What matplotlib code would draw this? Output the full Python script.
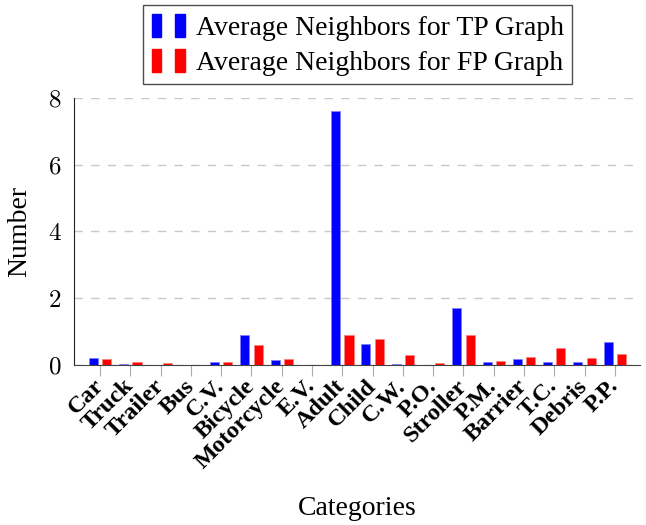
import matplotlib

matplotlib.use("Agg")
import matplotlib.pyplot as plt
import numpy as np
from matplotlib.patches import Rectangle
from matplotlib.legend_handler import HandlerTuple

CATEGORIES = ["Car", "Truck", "Trailer", "Bus", "C.V.", "Bicycle", "Motorcycle", "E.V.",
              "Adult", "Child", "C.W.", "P.O.", "Stroller", "P.M.", "Barrier", "T.C.",
              "Debris", "P.P."]
TP_AVG = [0.22, 0.02, 0.01, 0.0, 0.08, 0.89, 0.14, 0.01,
          7.6, 0.64, 0.02, 0.01, 1.7, 0.08, 0.18, 0.10, 0.10, 0.69]
FP_AVG = [0.18, 0.08, 0.07, 0.01, 0.08, 0.61, 0.19, 0.01,
          0.91, 0.79, 0.31, 0.05, 0.9, 0.12, 0.25, 0.5, 0.21, 0.34]
Y_TICKS = [0, 2, 4, 6, 8]

BLUE = "#0000ff"
RED = "#ff0000"

plt.rcParams["font.family"] = ["Liberation Serif", "DejaVu Serif"]
plt.rcParams["mathtext.fontset"] = "cm"

fig = plt.figure(figsize=(6.46, 5.25), dpi=100)
ax = fig.add_axes([0.1146, 0.3048, 0.8761, 0.5085])

x = np.arange(len(CATEGORIES))
w = 0.3
ax.bar(x - 0.22, TP_AVG, width=w, color=BLUE, edgecolor="#8080ff", linewidth=0.5, zorder=3)
ax.bar(x + 0.22, FP_AVG, width=w, color=RED, edgecolor="#ff8080", linewidth=0.5, zorder=3)

ax.set_xlim(-0.86, 17.83)
ax.set_ylim(0, 8)
ax.set_yticks(Y_TICKS)
ax.set_yticklabels([f"${v}$" for v in Y_TICKS], fontsize=18)
ax.tick_params(axis="y", length=0, pad=9)
ax.set_xticks(x)
ax.set_xticklabels(CATEGORIES, rotation=45, ha="right", va="center",
                   rotation_mode="anchor", fontsize=17.5, fontweight="bold")
ax.tick_params(axis="x", length=8, color="#aaaaaa", pad=5)

ax.grid(axis="y", linestyle=(0, (6, 6)), color="#c8c8c8", linewidth=1.0, zorder=0)
for s in ("top", "right"):
    ax.spines[s].set_visible(False)
ax.spines["bottom"].set_color("#444444")
ax.spines["left"].set_color("#222222")

ax.set_ylabel("Number", fontsize=20)
ax.yaxis.set_label_coords(-0.074, 0.5)
ax.set_xlabel("Categories", fontsize=20)
ax.xaxis.set_label_coords(0.5, -0.492)

tp_h = (Rectangle((0, 0), 1, 1, color=BLUE), Rectangle((0, 0), 1, 1, color=BLUE))
fp_h = (Rectangle((0, 0), 1, 1, color=RED), Rectangle((0, 0), 1, 1, color=RED))
leg = fig.legend([tp_h, fp_h],
                 ["Average Neighbors for TP Graph", "Average Neighbors for FP Graph"],
                 handler_map={tuple: HandlerTuple(ndivide=2, pad=0.5)},
                 loc="upper center", bbox_to_anchor=(0.554, 0.99), fontsize=20,
                 frameon=True, fancybox=False, edgecolor="#222222",
                 handlelength=1.2, handleheight=0.9, handletextpad=0.4,
                 borderpad=0.3, borderaxespad=0, labelspacing=0.3)
leg.get_frame().set_linewidth(1.0)

fig.savefig("out.png", dpi=100, facecolor="white")
